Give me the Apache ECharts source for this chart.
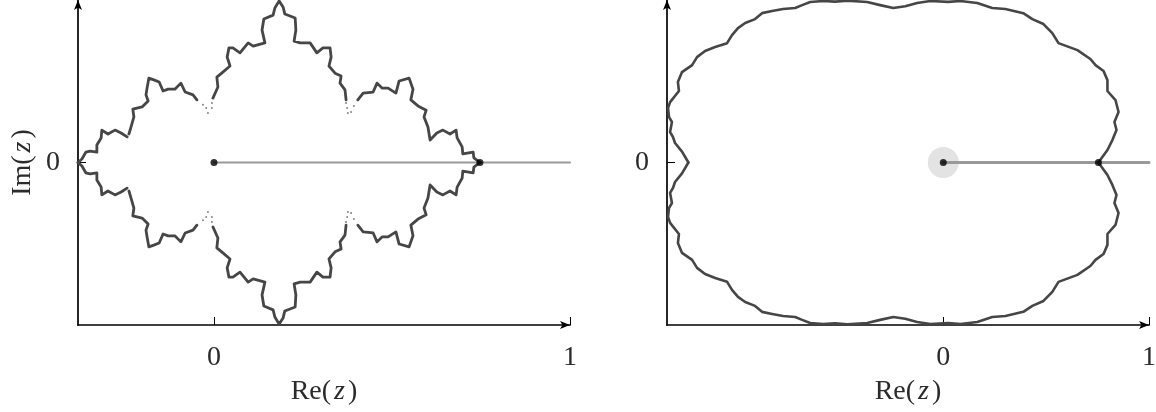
<!DOCTYPE html>
<html><head><meta charset="utf-8">
<style>html,body{margin:0;padding:0;background:#fff}#c{width:1156px;height:412px}</style>
<script src="https://cdn.jsdelivr.net/npm/echarts@6/dist/echarts.min.js"></script>
</head><body><div id="c"></div>
<script>
// Left panel boundary, upper half then lower half (null = visible break in the curve)
const leftRe=[-.382,-.371,-.360,-.348,-.329,-.329,-.317,-.315,-.298,-.278,-.261,-.244,null,
-.239,-.233,-.225,-.228,-.202,-.185,-.191,-.188,-.183,-.169,-.154,-.143,-.129,-.110,-.093,-.081,-.059,-.048,null,
-.003,.011,.008,.025,.045,.037,.042,.053,.073,.096,.110,.143,.135,.140,.166,.171,.183,.194,.199,.228,.230,.225,.242,.270,.289,.306,.326,.329,.323,.340,.357,.354,.368,.371,null,
.404,.419,.447,.458,.472,.489,.511,.520,.548,.559,.553,.573,.596,.590,.601,.607,.626,.643,.663,.680,.683,.697,.699,.728,.730,.747];
const leftImUpper=[0,.010,.029,.032,.029,.049,.069,.091,.080,.091,.083,.072,null,
.080,.100,.128,.150,.156,.173,.190,.209,.237,.232,.226,.201,.206,.206,.223,.198,.190,.176,null,
.181,.212,.240,.254,.271,.296,.322,.322,.308,.336,.327,.336,.372,.403,.414,.434,.454,.437,.417,.406,.372,.341,.336,.336,.308,.322,.322,.296,.271,.251,.243,.223,.204,.176,null,
.176,.195,.198,.223,.209,.209,.195,.229,.237,.206,.176,.159,.147,.128,.100,.063,.083,.091,.080,.091,.069,.044,.024,.029,.013,0];
const leftImLower=[0,-.010,-.029,-.032,-.029,-.049,-.069,-.091,-.080,-.091,-.083,-.072,null,
-.080,-.100,-.128,-.150,-.156,-.173,-.190,-.209,-.237,-.232,-.226,-.201,-.206,-.206,-.223,-.198,-.190,-.176,null,
-.181,-.212,-.240,-.254,-.271,-.296,-.322,-.322,-.308,-.336,-.327,-.336,-.372,-.403,-.414,-.434,-.454,-.437,-.417,-.406,-.372,-.341,-.336,-.336,-.308,-.322,-.322,-.296,-.271,-.251,-.243,-.223,-.204,-.176,null,
-.176,-.195,-.198,-.223,-.209,-.209,-.195,-.229,-.237,-.206,-.176,-.159,-.147,-.128,-.100,-.063,-.083,-.091,-.080,-.091,-.069,-.044,-.024,-.029,-.013,0];
// Sparse isolated points around the cusps of the left boundary
const cuspRe=[-.031,-.022,-.017,-.006,-.006,.371,.374,.376,.385,.393,-.031,-.022,-.017,-.006,-.006,.371,.374,.376,.385,.393];
const cuspIm=[.162,.153,.139,.153,.167,.167,.153,.139,.142,.159,-.162,-.153,-.139,-.153,-.167,-.167,-.153,-.139,-.142,-.159];
// Right panel boundary
const rightRe=[-1.239,-1.270,-1.304,-1.314,-1.328,-1.319,-1.333,-1.338,-1.328,-1.285,-1.290,-1.270,-1.221,-1.197,-1.158,-1.109,-1.051,-1.027,-.998,-.963,-.915,-.881,-.832,-.779,-.720,-.686,-.647,-.584,-.526,-.467,-.370,-.307,-.243,-.185,-.127,-.063,.024,.083,.165,.238,.302,.389,.433,.487,.530,.560,.652,.715,.740,.779,.798,.798,.837,.852,.832,.842,.822,.798,.754];
const rightImUpper=[0,.053,.095,.124,.148,.197,.221,.265,.294,.348,.392,.440,.474,.513,.543,.562,.581,.620,.654,.679,.698,.727,.737,.747,.752,.766,.781,.786,.783,.788,.781,.766,.752,.761,.776,.786,.782,.786,.776,.752,.747,.727,.698,.674,.630,.581,.547,.504,.474,.445,.401,.348,.304,.246,.197,.158,.109,.061,0];
const rightImLower=[0,-.053,-.095,-.124,-.148,-.197,-.221,-.265,-.294,-.348,-.392,-.440,-.474,-.513,-.543,-.562,-.581,-.620,-.654,-.679,-.698,-.727,-.737,-.747,-.752,-.766,-.781,-.786,-.783,-.788,-.781,-.766,-.752,-.761,-.776,-.786,-.782,-.786,-.776,-.752,-.747,-.727,-.698,-.674,-.630,-.581,-.547,-.504,-.474,-.445,-.401,-.348,-.304,-.246,-.197,-.158,-.109,-.061,0];
// Reference ray and marked points
const rayRe=[0,1];
const rayIm=[0,0];
const leftMarkRe=[0,.747];
const rightMarkRe=[0,.754];
const markIm=[0,0];
const haloRe=[0];
const haloIm=[0];
const xTicks=[0,1];
const yTicks=[0];

const zip=(a,b)=>a.map((v,i)=>[v,b[i]]);
const font='"Liberation Serif","Times New Roman",serif';
const ink='#2b2b2b';
const curve='#464646';
const fs=28;
const rich={r:{fontFamily:font,fontSize:fs,color:ink},p:{fontFamily:font,fontSize:fs,color:ink,padding:[0,0,0,2]},i:{fontFamily:font,fontStyle:'italic',fontSize:fs,color:ink,padding:[0,3,0,3]}};
const axisLine={onZero:false,lineStyle:{color:'#000',width:1.7},symbol:['none','arrow'],symbolSize:[6,10]};
function xAxis(idx,min,max){return{type:'value',gridIndex:idx,min,max,
  splitLine:{show:false},axisLine,
  axisTick:{show:true,inside:true,length:8,lineStyle:{color:'#000',width:1},customValues:xTicks},
  axisLabel:{customValues:xTicks,color:ink,fontFamily:font,fontSize:fs,margin:19,formatter:v=>String(v)},
  name:'{r|Re(}{i|z}{r|)}',nameLocation:'middle',nameGap:53,nameTextStyle:{rich}};}
function yAxis(idx,min,max,named){const o={type:'value',gridIndex:idx,min,max,
  splitLine:{show:false},axisLine,
  axisTick:{show:true,inside:true,length:8,lineStyle:{color:'#000',width:1},customValues:yTicks},
  axisLabel:{customValues:yTicks,color:ink,fontFamily:font,fontSize:fs,margin:18,formatter:v=>String(v)}};
  if(named){o.name='{r|Im(}{i|z}{r|)}';o.nameLocation='middle';o.nameGap=41;o.nameTextStyle={rich};}
  return o;}
function lineS(idx,data,color,width,z){return{type:'line',xAxisIndex:idx,yAxisIndex:idx,data,showSymbol:false,symbol:'none',clip:false,connectNulls:false,lineStyle:{color,width,join:'round',cap:'round'},z,silent:true,animation:false};}
function dotS(idx,data,color,size,z){return{type:'scatter',xAxisIndex:idx,yAxisIndex:idx,data,symbol:'circle',symbolSize:size,itemStyle:{color},clip:false,z,silent:true,animation:false};}
const chart=echarts.init(document.getElementById('c'),null,{renderer:'canvas'});
chart.setOption({
  animation:false,backgroundColor:'#fff',
  grid:[{left:78,top:0,width:492,height:325,outerBoundsMode:'none'},{left:667,top:0,width:482,height:325,outerBoundsMode:'none'}],
  xAxis:[xAxis(0,-.382,1),xAxis(1,-1.343,1)],
  yAxis:[yAxis(0,-.4565,.4565,true),yAxis(1,-.791,.791,false)],
  series:[
    lineS(0,zip(rayRe,rayIm),'#999',2,3),
    lineS(0,zip(leftRe,leftImUpper),curve,2.8,4),
    lineS(0,zip(leftRe,leftImLower),curve,2.8,4),
    dotS(0,zip(cuspRe,cuspIm),'#666',2,4),
    dotS(0,zip(leftMarkRe,markIm),'#000',7,5),
    dotS(1,zip(haloRe,haloIm),'#dcdcdc',31,2),
    lineS(1,zip(rayRe,rayIm),'#999',3,3),
    lineS(1,zip(rightRe,rightImUpper),curve,2.6,4),
    lineS(1,zip(rightRe,rightImLower),curve,2.6,4),
    dotS(1,zip(rightMarkRe,markIm),'#000',7,5)
  ]
});
</script>
</body></html>
